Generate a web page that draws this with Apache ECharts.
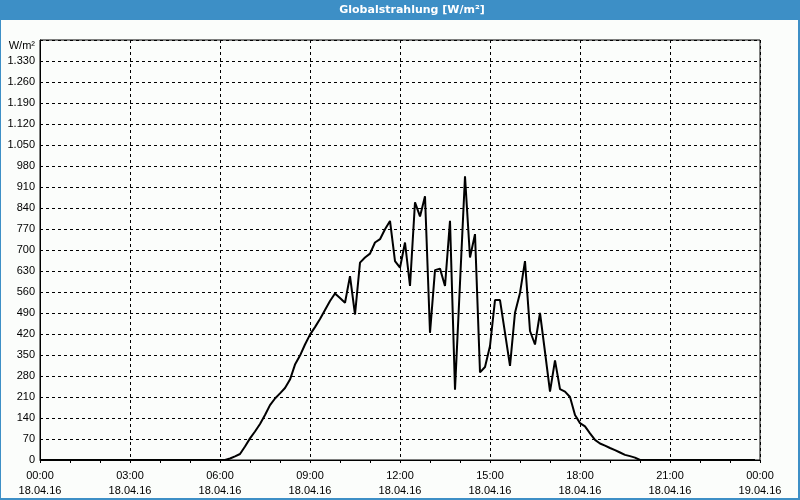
<!DOCTYPE html>
<html>
<head>
<meta charset="utf-8">
<script src="https://cdn.jsdelivr.net/npm/echarts@6/dist/echarts.min.js"></script>
<style>
html,body{margin:0;padding:0;background:#fbfdfb;}
#chart{width:800px;height:500px;}
</style>
</head>
<body>
<div id="chart"></div>
<script>
var chartTitle = 'Globalstrahlung [W/m²]';
var yUnit = 'W/m²';
var times = ['00:00','06:10','06:20','06:30','06:40','06:50','07:00','07:10','07:20','07:30','07:40','07:50',
  '08:00','08:10','08:20','08:30','08:40','08:50','09:00','09:10','09:20','09:30','09:40','09:50',
  '10:00','10:10','10:20','10:30','10:40','10:50','11:00','11:10','11:20','11:30','11:40','11:50',
  '12:00','12:10','12:20','12:30','12:40','12:50','13:00','13:10','13:20','13:30','13:40','13:50',
  '14:00','14:10','14:20','14:30','14:40','14:50','15:00','15:10','15:20','15:30','15:40','15:50',
  '16:00','16:10','16:20','16:30','16:40','16:50','17:00','17:10','17:20','17:30','17:40','17:50',
  '18:00','18:10','18:20','18:30','18:40','18:50','19:00','19:10','19:20','19:30','19:40','19:50',
  '20:00','23:50'];
var values = [0,0,5,12,20,45,72,95,120,150,183,205,
  222,240,268,318,348,385,418,443,470,500,530,555,
  540,524,613,485,658,675,688,725,736,769,797,663,
  641,725,580,859,812,879,424,633,638,580,797,234,
  590,946,675,753,292,310,380,533,533,424,314,491,
  557,663,430,385,490,360,228,332,236,228,210,150,
  123,112,89,67,55,48,40,33,25,17,13,8,
  0,0];
var xTickHours = [0,3,6,9,12,15,18,21,24];
var xTickDates = ['18.04.16','18.04.16','18.04.16','18.04.16','18.04.16','18.04.16','18.04.16','18.04.16','19.04.16'];

function toHours(s){var p=s.split(':');return +p[0]+(+p[1])/60;}
var seriesData = times.map(function(t,i){return [toHours(t), values[i]];});

var chart = echarts.init(document.getElementById('chart'), null, {renderer:'canvas'});
var font = 'Liberation Sans';
chart.setOption({
  backgroundColor:'#fbfdfb',
  animation:false,
  graphic:[
    {type:'rect', shape:{x:0,y:0,width:800,height:20}, style:{fill:'#3d8fc6'}, z:-1},
    {type:'rect', shape:{x:0,y:0,width:1,height:500}, style:{fill:'#3d8fc6'}},
    {type:'rect', shape:{x:798,y:0,width:2,height:500}, style:{fill:'#3d8fc6'}},
    {type:'rect', shape:{x:0,y:498,width:800,height:2}, style:{fill:'#3d8fc6'}},
    {type:'text', x:412, y:10, style:{text:chartTitle, fill:'#ffffff', font:'bold 11px "DejaVu Sans"', align:'center', verticalAlign:'middle'}}
  ],
  grid:{left:40,right:40,top:40,bottom:40,show:true,borderColor:'#000',borderWidth:1,backgroundColor:'transparent'},
  xAxis:{
    type:'value', min:0, max:24, interval:3,
    axisLine:{show:true,lineStyle:{color:'#000',width:1}},
    axisTick:{show:true,length:3,lineStyle:{color:'#000'}},
    minorTick:{show:true,splitNumber:3,length:3,lineStyle:{color:'#000'}},
    splitLine:{show:true,lineStyle:{color:'#000',type:[3,3],width:1}},
    axisLabel:{
      color:'#000', fontFamily:font, fontSize:11, lineHeight:15, margin:8,
      formatter:function(v){
        var i = xTickHours.indexOf(v);
        var h = v % 24;
        var hh = (h<10?'0':'')+h+':00';
        return hh + '\n' + (i>=0?xTickDates[i]:'');
      }
    }
  },
  yAxis:{
    type:'value', min:0, max:1400, interval:70,
    axisLine:{show:true,lineStyle:{color:'#000',width:1}},
    axisTick:{show:false},
    splitLine:{show:true,lineStyle:{color:'#000',type:[3,3],width:1}},
    axisLabel:{
      color:'#000', fontFamily:font, fontSize:11, margin:5,
      rich:{u:{fontFamily:font,fontSize:11,color:'#000',padding:[12,0,0,0]}},
      formatter:function(v){
        if(v===1400) return '{u|'+yUnit+'}';
        if(v>=1000){var s=String(v);return s.slice(0,s.length-3)+'.'+s.slice(s.length-3);}
        return String(v);
      }
    }
  },
  series:[{
    type:'line', data:seriesData, showSymbol:false, symbol:'none',
    lineStyle:{color:'#000',width:2}, z:5
  }]
});
</script>
</body>
</html>
